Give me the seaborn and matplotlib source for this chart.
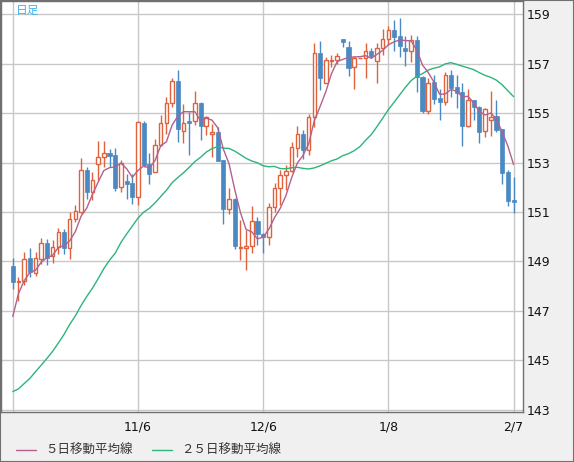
import numpy as np
import pandas as pd
import matplotlib
matplotlib.use("Agg")
import matplotlib.pyplot as plt
from matplotlib.patches import Rectangle
from matplotlib.lines import Line2D
import seaborn as sns

# daily candles, 2024-10-07 .. 2025-02-07 (89 bars)
open_ = [148.80, 148.16, 148.21, 149.15, 148.53, 149.11, 149.76, 149.20, 149.58, 150.19,
         149.52, 150.73, 151.00, 152.69, 151.81, 152.93, 153.23, 153.37, 153.30, 152.01,
         152.24, 152.17, 151.61, 154.62, 152.93, 152.62, 153.70, 154.62, 155.43, 156.29,
         154.29, 154.68, 154.68, 155.43, 154.49, 154.15, 154.24, 153.09, 151.11, 151.52,
         149.56, 149.56, 149.61, 150.63, 150.12, 149.97, 151.18, 151.97, 152.49, 152.66,
         153.57, 154.15, 153.51, 154.83, 157.42, 156.23, 157.12, 157.15, 157.99, 157.69,
         156.85, 157.22, 157.22, 157.52, 157.13, 157.63, 158.02, 158.36, 158.12, 157.63,
         157.50, 157.95, 156.47, 155.09, 156.27, 155.62, 155.46, 156.53, 156.07, 155.87,
         154.48, 155.53, 155.26, 154.27, 154.74, 154.88, 154.34, 152.63, 151.47]
high = [149.14, 148.37, 149.38, 149.56, 149.36, 149.96, 149.92, 149.85, 150.34, 150.30,
        150.98, 151.27, 153.18, 152.82, 152.60, 153.87, 153.87, 153.53, 153.57, 153.09,
        152.55, 152.55, 154.70, 154.70, 153.37, 153.94, 154.92, 155.66, 156.43, 156.74,
        155.37, 155.03, 155.89, 155.45, 154.88, 154.58, 154.45, 153.12, 151.98, 151.55,
        150.66, 150.26, 151.24, 150.78, 150.15, 151.35, 152.18, 152.69, 152.90, 153.84,
        154.49, 154.32, 154.95, 157.83, 157.92, 157.28, 157.35, 157.42, 158.00, 157.92,
        157.30, 157.22, 157.83, 157.63, 157.83, 158.39, 158.54, 158.77, 158.86, 158.12,
        158.16, 158.13, 156.50, 156.41, 156.54, 155.99, 156.67, 156.74, 156.53, 156.23,
        155.98, 155.55, 155.30, 155.19, 155.91, 155.53, 154.36, 152.70, 152.43]
low = [147.86, 147.40, 148.03, 148.37, 148.39, 148.90, 148.84, 148.94, 149.28, 149.31,
       149.11, 150.60, 150.95, 151.54, 151.47, 152.31, 152.83, 152.80, 151.84, 151.81,
       151.54, 151.31, 151.30, 152.80, 152.12, 152.60, 153.65, 154.17, 155.26, 153.84,
       153.80, 153.30, 154.51, 153.90, 154.10, 153.23, 153.05, 150.50, 150.91, 149.48,
       149.04, 148.64, 149.33, 149.65, 149.33, 149.65, 151.00, 151.30, 151.88, 152.60,
       153.23, 153.16, 153.30, 154.43, 155.93, 156.20, 156.88, 157.00, 157.68, 156.52,
       155.98, 157.22, 156.41, 157.22, 156.24, 157.35, 157.75, 157.52, 157.28, 156.89,
       157.09, 155.87, 155.02, 154.96, 155.37, 154.72, 155.33, 155.66, 155.20, 153.68,
       154.45, 154.72, 153.80, 154.05, 154.07, 154.25, 152.15, 151.23, 150.94]
close = [148.15, 148.22, 149.11, 148.57, 149.15, 149.76, 149.15, 149.58, 150.17, 149.52,
         150.73, 151.03, 152.69, 151.81, 152.28, 153.23, 153.37, 153.27, 151.98, 153.00,
         152.15, 151.61, 154.65, 152.90, 152.55, 153.70, 154.62, 155.43, 156.29, 154.34,
         154.62, 154.60, 155.43, 154.49, 154.83, 154.24, 153.07, 151.11, 151.52, 149.62,
         149.58, 149.62, 150.63, 150.09, 149.99, 151.18, 151.97, 152.49, 152.66, 153.62,
         154.15, 153.51, 154.83, 157.42, 156.41, 157.15, 157.16, 157.30, 157.86, 156.83,
         157.22, 157.22, 157.50, 157.33, 157.63, 158.02, 158.36, 158.09, 157.72, 157.50,
         157.95, 156.47, 155.09, 156.23, 155.57, 155.46, 156.53, 156.02, 155.83, 154.48,
         155.53, 155.23, 154.25, 155.15, 154.85, 154.31, 152.59, 151.45, 151.41]

# closes before the window (needed for the moving averages)
prior_close = [145.5, 143.7, 143.4, 142.3, 143.1, 142.4, 142.4, 141.8, 140.8, 140.6,
               142.3, 142.3, 142.6, 143.9, 143.6, 143.2, 144.8, 144.8, 142.2, 143.6,
               143.6, 146.5, 146.9, 148.7]

tick_bars = [0, 22, 44, 66, 88]
tick_labels = ["", "11/6", "12/6", "1/8", "2/7"]
y_ticks = [143, 145, 147, 149, 151, 153, 155, 157, 159]
legend_labels = ["５日移動平均線", "２５日移動平均線"]

UP = "#e0623c"
DOWN = "#4a89c2"
MA5_C = "#b4608e"
MA25_C = "#2db57a"
GRID = "#c8c8c8"

sns.set_style("white")
plt.rcParams["font.family"] = ["DejaVu Sans", "Noto Sans CJK JP"]

df = pd.DataFrame({"o": open_, "h": high, "l": low, "c": close})
df["bar"] = np.arange(len(df))
s = pd.Series(prior_close + close)
df["ma5"] = s.rolling(5).mean().iloc[len(prior_close):].values
df["ma25"] = s.rolling(25).mean().iloc[len(prior_close):].values
up = df["c"] >= df["o"]

fig = plt.figure(figsize=(5.74, 4.62), dpi=100, facecolor="#f0f0f0")
ax = fig.add_axes([1 / 574, 50 / 462, 522 / 574, 411 / 462])
ax.set_facecolor("white")

# grid
for yv in y_ticks:
    ax.axhline(yv, color=GRID, lw=1, zorder=0)
for xv in tick_bars:
    ax.axvline(xv, color=GRID, lw=1, zorder=0)

# wicks
ax.vlines(df["bar"][up], df["l"][up], df["h"][up], color=UP, lw=1, zorder=2)
ax.vlines(df["bar"][~up], df["l"][~up], df["h"][~up], color=DOWN, lw=1, zorder=2)

# bodies
body_lo = df[["o", "c"]].min(axis=1)
body_h = (df["c"] - df["o"]).abs().clip(lower=0.02)
ax.bar(df["bar"][up], body_h[up], bottom=body_lo[up], width=0.62,
       facecolor="white", edgecolor=UP, linewidth=1, zorder=3)
ax.bar(df["bar"][~up], body_h[~up], bottom=body_lo[~up], width=0.72,
       facecolor=DOWN, edgecolor=DOWN, linewidth=0.5, zorder=3)

# moving averages
sns.lineplot(data=df, x="bar", y="ma25", ax=ax, color=MA25_C, lw=1, zorder=4)
sns.lineplot(data=df, x="bar", y="ma5", ax=ax, color=MA5_C, lw=1, zorder=5)

ax.set_xlim(-2.07, 89.66)
ax.set_ylim(142.9, 159.54)
ax.set_xlabel("")
ax.set_ylabel("")
ax.yaxis.tick_right()
ax.set_yticks(y_ticks)
ax.set_yticklabels([str(v) for v in y_ticks])
ax.set_xticks(tick_bars)
ax.set_xticklabels(tick_labels)
ax.tick_params(axis="y", length=0, pad=3, labelsize=9, labelcolor="#111111")
ax.tick_params(axis="x", length=0, pad=6, labelsize=9, labelcolor="#111111")
for sp in ax.spines.values():
    sp.set_color("#707070")
    sp.set_linewidth(1)
    sp.set_visible(True)

ax.text(15 / 522, 1 - 2.5 / 411, "日足", transform=ax.transAxes, ha="left", va="top",
        fontsize=8.5, color="#40b4ea", family=["Noto Sans CJK JP"])

# legend row
y_leg = 12 / 462
for x0, lab, col in [(16, legend_labels[0], MA5_C), (152, legend_labels[1], MA25_C)]:
    fig.add_artist(Line2D([x0 / 574, (x0 + 20) / 574], [y_leg, y_leg],
                          color=col, lw=1, transform=fig.transFigure))
    fig.text((x0 + 29) / 574, y_leg, lab, ha="left", va="center", fontsize=9,
             color="#333333", family=["Noto Sans CJK JP", "DejaVu Sans"])

fig.add_artist(Rectangle((0, 0), 1, 1, transform=fig.transFigure, fill=False,
                         edgecolor="#707070", lw=1.5))

fig.savefig("out.png", dpi=100, facecolor=fig.get_facecolor())
